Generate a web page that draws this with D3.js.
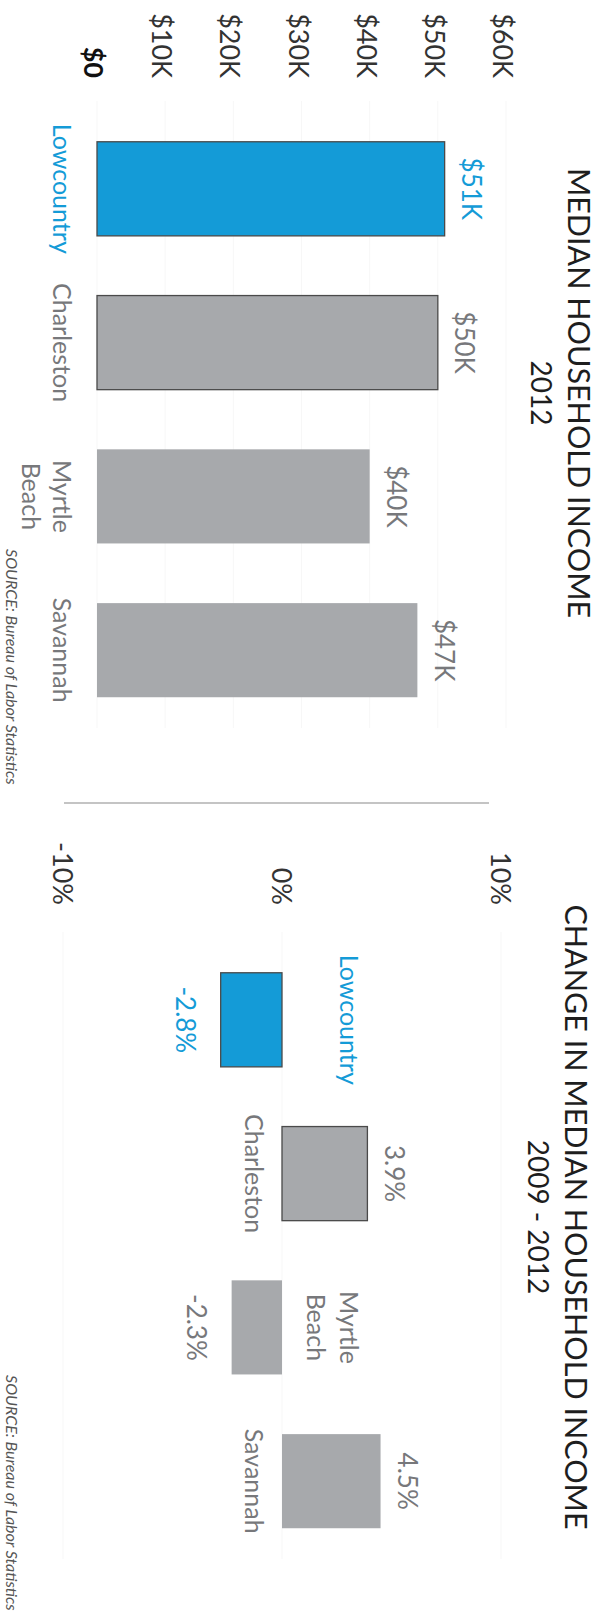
<!DOCTYPE html>
<html><head><meta charset="utf-8">
<script src="https://cdn.jsdelivr.net/npm/d3@7"></script>
<style>html,body{margin:0;padding:0;background:#fff;} svg{display:block;}</style>
</head><body>
<svg id="chart" width="599" height="1616"></svg>
<script>
// ---- data ----
const categories = ["Lowcountry", "Charleston", "Myrtle Beach", "Savannah"];
const categoryLines = [["Lowcountry"], ["Charleston"], ["Myrtle", "Beach"], ["Savannah"]];
const highlight = "Lowcountry";
const outlined = ["Lowcountry", "Charleston"];
const incomeValues = [51, 50, 40, 47];          // median household income 2012, $K
const incomeTicks = [0, 10, 20, 30, 40, 50, 60];
const changeValues = [-2.8, 3.9, -2.3, 4.5];    // change 2009-2012, %
const changeTicks = [-10, 0, 10];
const incomeTitle = ["MEDIAN HOUSEHOLD INCOME", "2012"];
const changeTitle = ["CHANGE IN MEDIAN HOUSEHOLD INCOME", "2009 - 2012"];
const sourceText = "SOURCE: Bureau of Labor Statistics";

// ---- style ----
const FONT = "Lato, 'Open Sans', sans-serif";
const BLUE = "#149bd7", GRAY = "#a7a9ac", STROKE = "#4a4a4a";
const LABEL_GRAY = "#77787b", TICK_COL = "#333", TITLE_COL = "#1e1e1e";

const svg = d3.select("#chart");
svg.append("rect").attr("width", 599).attr("height", 1616).attr("fill", "#fff");
// the whole page is laid out sideways: draw in a 1616 x 599 frame turned 90deg clockwise
const g = svg.append("g").attr("transform", "translate(599,0) rotate(90)");

const fmtK = v => "$" + d3.format("d")(v) + "K";
const fmtPct = v => (v < 0 ? "-" : "") + d3.format(".1f")(Math.abs(v)) + "%";
const tickK = v => v === 0 ? "$0" : "$" + v + "K";
const tickPct = v => (v < 0 ? "-" : "") + Math.abs(v) + "%";

function drawPanel(opt) {
  const p = g.append("g");
  const x = d3.scaleBand().domain(categories).range(opt.bandRange)
    .paddingInner(0.388).paddingOuter(0.2);
  const y = d3.scaleLinear().domain(opt.domain).range(opt.yRange);
  const y0 = y(0);

  // very faint gridlines
  p.append("g").selectAll("line").data(opt.ticks).join("line")
    .attr("x1", opt.bandRange[0] - 10).attr("x2", opt.bandRange[1])
    .attr("y1", d => y(d)).attr("y2", d => y(d))
    .attr("stroke", "#f7f7f7").attr("stroke-width", 1);

  // tick labels
  p.append("g").selectAll("text").data(opt.ticks).join("text")
    .attr("x", opt.tickX).attr("y", d => y(d) + opt.tickDy)
    .attr("text-anchor", "end")
    .attr("font-family", FONT).attr("font-size", 27)
    .attr("font-weight", d => (opt.boldZero && d === 0) ? 700 : 400)
    .attr("fill", d => (opt.boldZero && d === 0) ? "#111" : TICK_COL)
    .text(opt.tickFmt);

  // bars
  p.append("g").selectAll("rect").data(opt.values).join("rect")
    .attr("x", (d, i) => x(categories[i]))
    .attr("width", x.bandwidth())
    .attr("y", d => Math.min(y(d), y0))
    .attr("height", d => Math.abs(y(d) - y0))
    .attr("fill", (d, i) => categories[i] === highlight ? BLUE : GRAY)
    .attr("stroke", (d, i) => outlined.includes(categories[i]) ? STROKE : "none")
    .attr("stroke-width", 1.3);

  // value labels
  p.append("g").selectAll("text").data(opt.values).join("text")
    .attr("x", (d, i) => x(categories[i]) + x.bandwidth() / 2)
    .attr("y", d => (d >= 0 ? y(d) - 27 : y(d) + 35) + 9.4)
    .attr("text-anchor", "middle")
    .attr("font-family", FONT).attr("font-size", 26)
    .attr("fill", (d, i) => categories[i] === highlight ? BLUE : LABEL_GRAY)
    .text(opt.valueFmt);

  // category labels
  categories.forEach((c, i) => {
    const v = opt.values[i];
    const lines = categoryLines[i];
    const t = p.append("text")
      .attr("text-anchor", "middle")
      .attr("font-family", FONT).attr("font-size", 25)
      .attr("fill", c === highlight ? BLUE : LABEL_GRAY);
    lines.forEach((ln, j) => {
      let cy;
      if (v >= 0) cy = y0 + opt.catBelow + j * 31;
      else cy = y0 - opt.catAbove + j * 33;
      t.append("tspan").attr("x", x(c) + x.bandwidth() / 2).attr("y", cy + 9).text(ln);
    });
  });

  // titles
  p.append("text").attr("x", opt.titleX).attr("y", opt.titleY)
    .attr("text-anchor", "middle").attr("font-family", FONT).attr("font-size", 30.5)
    .attr("fill", TITLE_COL).text(opt.title[0]);
  p.append("text").attr("x", opt.titleX).attr("y", opt.titleY + 37)
    .attr("text-anchor", "middle").attr("font-family", FONT).attr("font-size", 28)
    .attr("fill", TITLE_COL).text(opt.title[1]);

  // source
  p.append("text").attr("x", opt.sourceX).attr("y", 593)
    .attr("font-family", FONT).attr("font-size", 16).attr("font-style", "italic")
    .attr("fill", "#555").text(sourceText);
}

drawPanel({
  values: incomeValues, domain: [0, 60], yRange: [502, 93], ticks: incomeTicks,
  bandRange: [111, 728], tickX: 78, tickDy: 13, boldZero: true,
  tickFmt: tickK, valueFmt: fmtK, catBelow: 35, catAbove: 0,
  title: incomeTitle, titleX: 393, titleY: 31, sourceX: 549
});

// separator between the two panels
g.append("line").attr("x1", 803).attr("x2", 803).attr("y1", 110).attr("y2", 535)
  .attr("stroke", "#8a8a8a").attr("stroke-width", 1.2);

drawPanel({
  values: changeValues, domain: [-10, 10], yRange: [536, 98], ticks: changeTicks,
  bandRange: [942, 1559], tickX: 905, tickDy: 9.7, boldZero: false,
  tickFmt: tickPct, valueFmt: fmtPct, catBelow: 28, catAbove: 67,
  title: changeTitle, titleX: 1217, titleY: 34, sourceX: 1375
});
</script>
</body></html>
